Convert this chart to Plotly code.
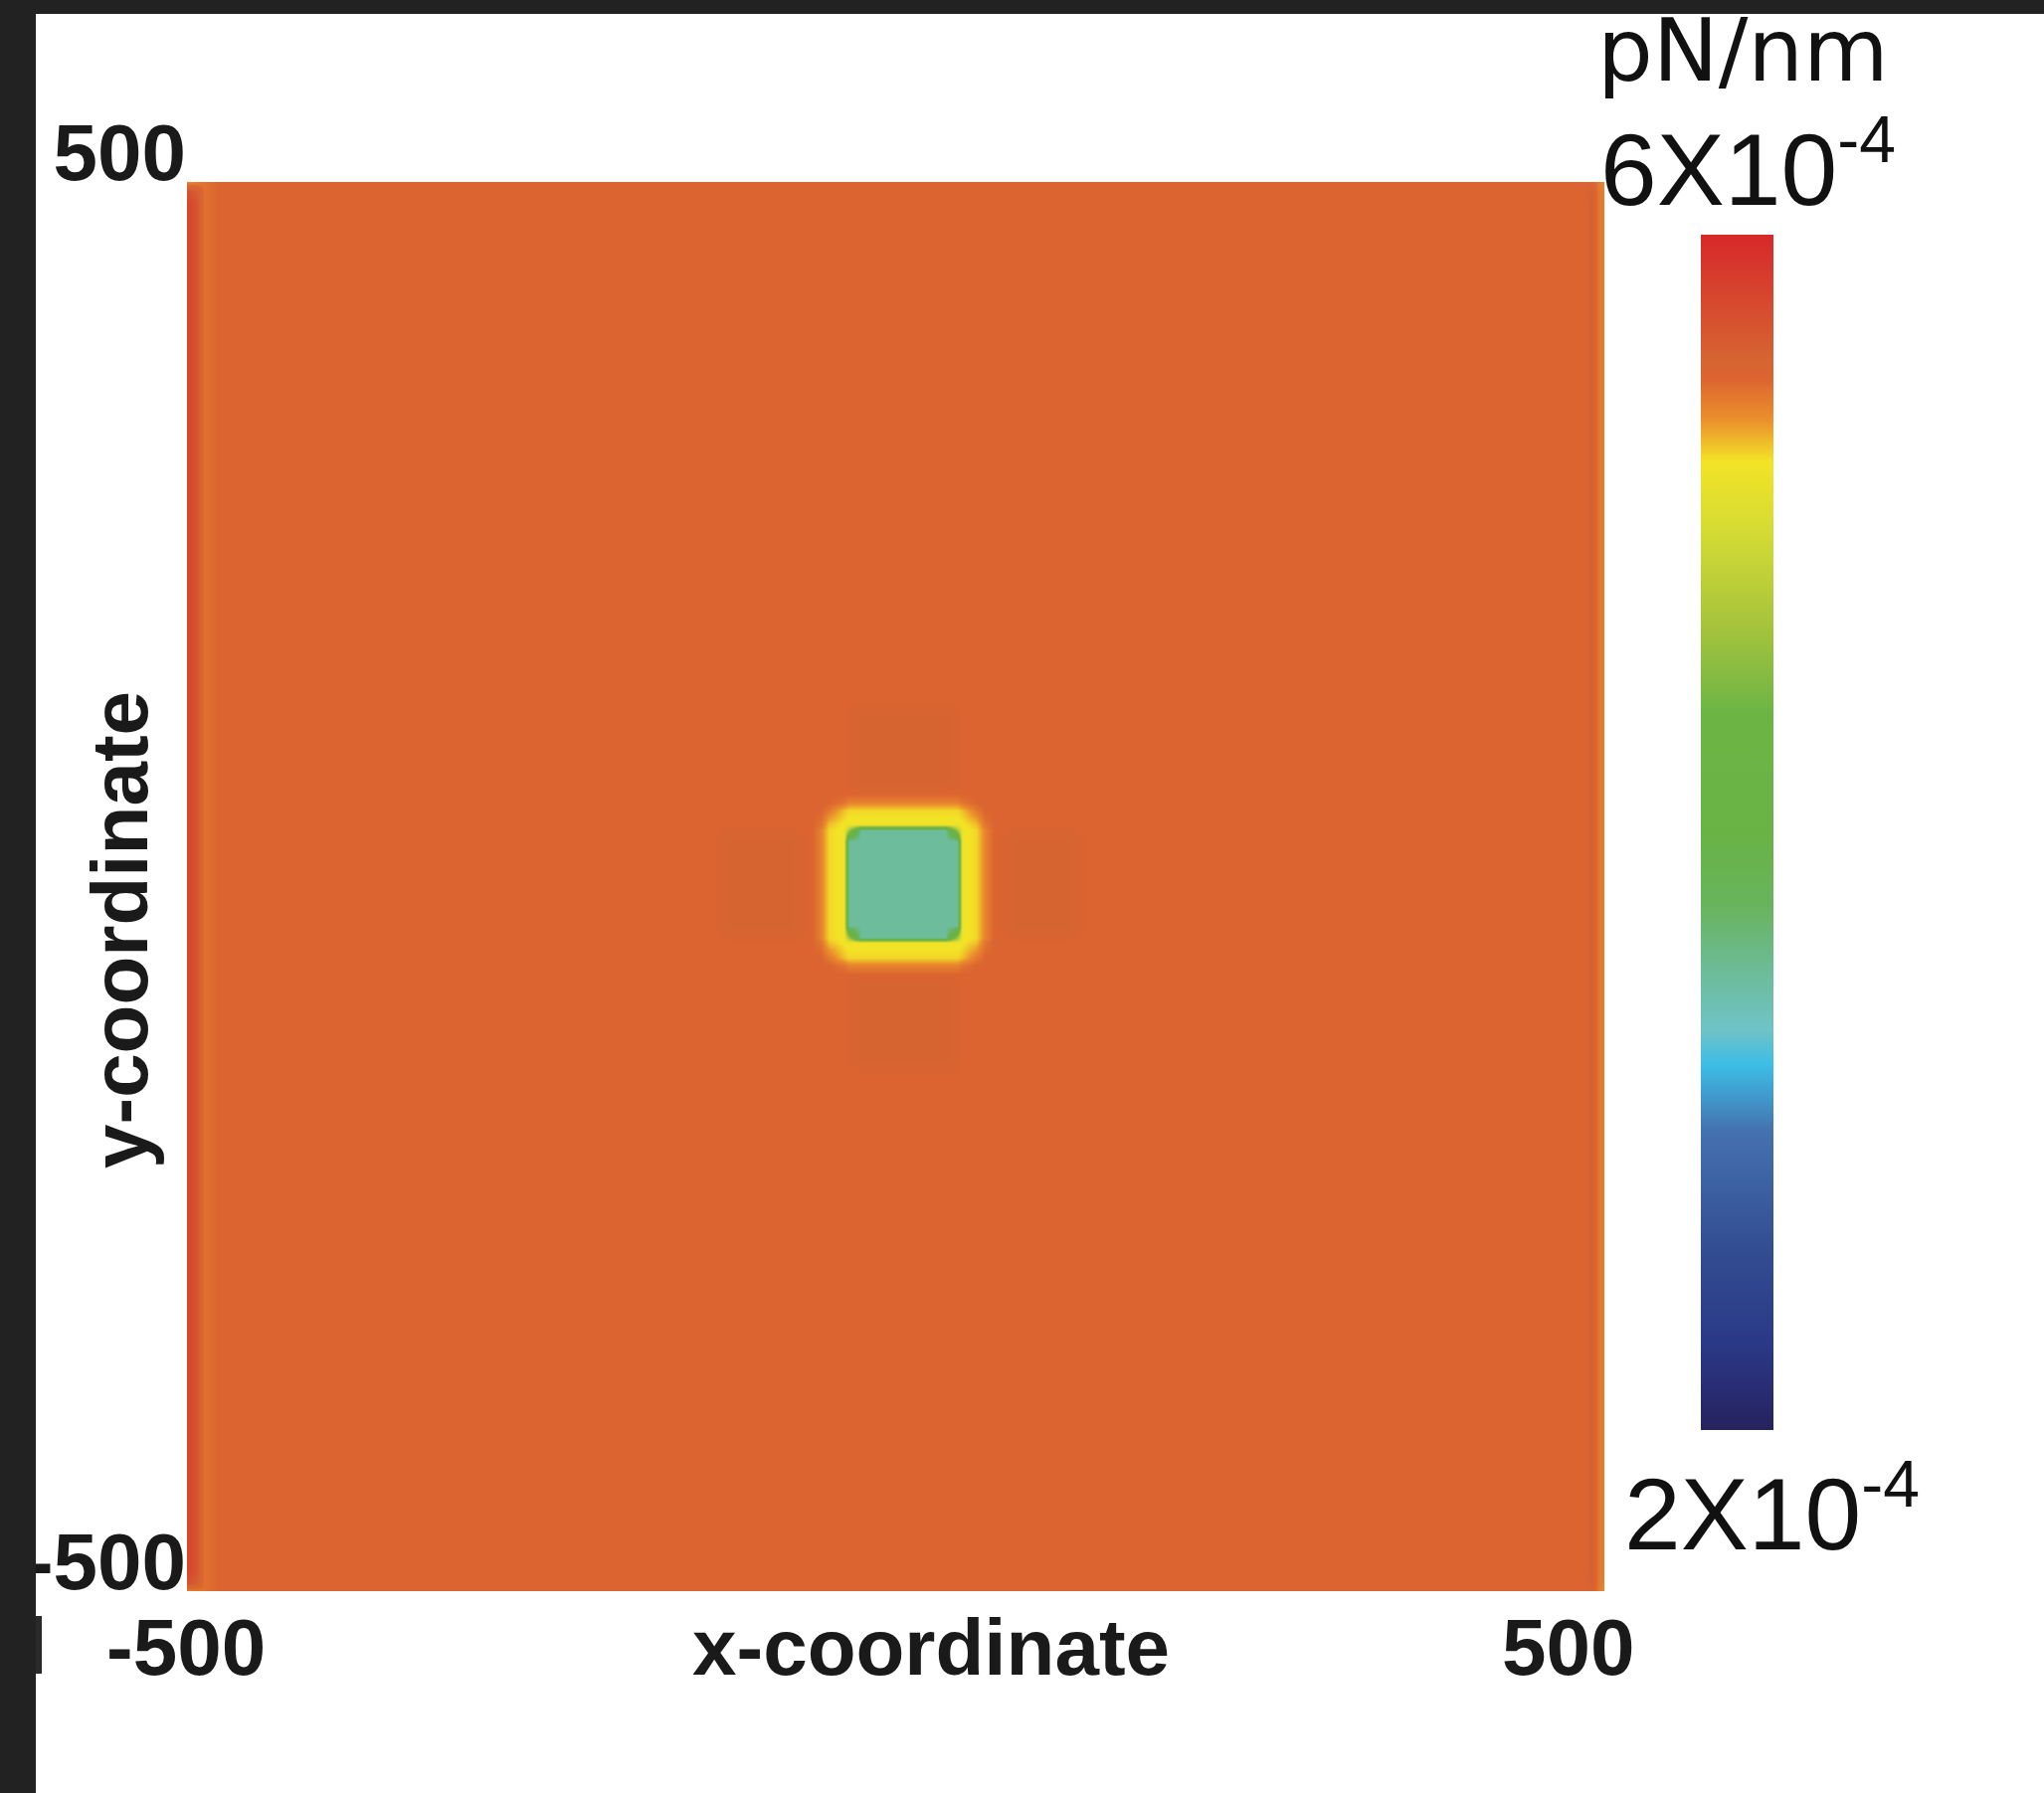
import plotly.graph_objects as go

# ---------------- data (field values in units of 1e-4 pN/nm) ----------------
# outer field: border stripes of the domain
edge_x = [-500, -494, -488, -478, 486, 491, 496, 500]
edge_y = [-500, -494, -486, 486, 494, 500]
edge_z = [
    [5.40, 5.44, 5.47, 5.52, 5.52, 5.56, 5.45, 5.40],   # y = -500
    [5.70, 5.62, 5.48, 5.52, 5.52, 5.60, 5.46, 5.42],   # y = -494
    [5.80, 5.70, 5.48, 5.52, 5.52, 5.62, 5.46, 5.44],   # y = -486
    [5.80, 5.70, 5.48, 5.52, 5.52, 5.62, 5.46, 5.44],   # y = 486
    [5.70, 5.62, 5.48, 5.52, 5.52, 5.60, 5.46, 5.42],   # y = 494
    [5.40, 5.44, 5.47, 5.52, 5.52, 5.56, 5.45, 5.40],   # y = 500
]

# central region: soft square inclusion with yellow rim and faint cross
core_x = [-130, -116, -74, -59, -53, -47, -37, -33, -25, 35, 43, 47, 57, 63, 69, 84, 122, 136]
core_y = [-136, -122, -72, -62, -56, -50, -40, -36, -28, 32, 40, 44, 54, 60, 66, 74, 120, 134]
core_z = [
    [5.52, 5.52, 5.52, 5.52, 5.52, 5.52, 5.52, 5.52, 5.52, 5.52, 5.52, 5.52, 5.52, 5.52, 5.52, 5.52, 5.52, 5.52],  # -136
    [5.52, 5.52, 5.52, 5.52, 5.52, 5.52, 5.52, 5.55, 5.58, 5.58, 5.55, 5.52, 5.52, 5.52, 5.52, 5.52, 5.52, 5.52],  # -122
    [5.52, 5.52, 5.52, 5.52, 5.52, 5.52, 5.52, 5.55, 5.58, 5.58, 5.55, 5.52, 5.52, 5.52, 5.52, 5.52, 5.52, 5.52],  # -72
    [5.52, 5.52, 5.52, 5.52, 5.52, 5.52, 5.52, 5.52, 5.52, 5.52, 5.52, 5.52, 5.52, 5.52, 5.52, 5.52, 5.52, 5.52],  # -62
    [5.52, 5.52, 5.52, 5.52, 5.52, 5.52, 5.47, 5.42, 5.42, 5.42, 5.42, 5.47, 5.52, 5.52, 5.52, 5.52, 5.52, 5.52],  # -56
    [5.52, 5.52, 5.52, 5.52, 5.52, 5.45, 5.30, 5.26, 5.26, 5.26, 5.26, 5.30, 5.45, 5.52, 5.52, 5.52, 5.52, 5.52],  # -50
    [5.52, 5.52, 5.52, 5.52, 5.47, 5.30, 5.23, 5.22, 5.22, 5.22, 5.22, 5.23, 5.30, 5.47, 5.52, 5.52, 5.52, 5.52],  # -40
    [5.52, 5.55, 5.55, 5.52, 5.42, 5.26, 5.22, 4.70, 3.52, 3.52, 4.70, 5.22, 5.26, 5.42, 5.52, 5.55, 5.55, 5.52],  # -36
    [5.52, 5.58, 5.58, 5.52, 5.42, 5.26, 5.22, 3.52, 3.52, 3.52, 3.52, 5.22, 5.26, 5.42, 5.52, 5.58, 5.58, 5.52],  # -28
    [5.52, 5.58, 5.58, 5.52, 5.42, 5.26, 5.22, 3.52, 3.52, 3.52, 3.52, 5.22, 5.26, 5.42, 5.52, 5.58, 5.58, 5.52],  # 32
    [5.52, 5.55, 5.55, 5.52, 5.42, 5.26, 5.22, 4.70, 3.52, 3.52, 4.70, 5.22, 5.26, 5.42, 5.52, 5.55, 5.55, 5.52],  # 40
    [5.52, 5.52, 5.52, 5.52, 5.47, 5.30, 5.23, 5.22, 5.22, 5.22, 5.22, 5.23, 5.30, 5.47, 5.52, 5.52, 5.52, 5.52],  # 44
    [5.52, 5.52, 5.52, 5.52, 5.52, 5.45, 5.30, 5.26, 5.26, 5.26, 5.26, 5.30, 5.45, 5.52, 5.52, 5.52, 5.52, 5.52],  # 54
    [5.52, 5.52, 5.52, 5.52, 5.52, 5.52, 5.47, 5.42, 5.42, 5.42, 5.42, 5.47, 5.52, 5.52, 5.52, 5.52, 5.52, 5.52],  # 60
    [5.52, 5.52, 5.52, 5.52, 5.52, 5.52, 5.52, 5.52, 5.52, 5.52, 5.52, 5.52, 5.52, 5.52, 5.52, 5.52, 5.52, 5.52],  # 66
    [5.52, 5.52, 5.52, 5.52, 5.52, 5.52, 5.52, 5.55, 5.58, 5.58, 5.55, 5.52, 5.52, 5.52, 5.52, 5.52, 5.52, 5.52],  # 74
    [5.52, 5.52, 5.52, 5.52, 5.52, 5.52, 5.52, 5.55, 5.58, 5.58, 5.55, 5.52, 5.52, 5.52, 5.52, 5.52, 5.52, 5.52],  # 120
    [5.52, 5.52, 5.52, 5.52, 5.52, 5.52, 5.52, 5.52, 5.52, 5.52, 5.52, 5.52, 5.52, 5.52, 5.52, 5.52, 5.52, 5.52],  # 134
]

z_min, z_max = 2.0, 6.0
axis_range = [-500, 500]
tick_vals = [-500, 500]
tick_text = ["-500", "500"]

colorscale = [
    [0.000, "#26225E"],
    [0.070, "#2A3887"],
    [0.150, "#324D91"],
    [0.250, "#4571AF"],
    [0.305, "#3CBDE6"],
    [0.335, "#6FC3C7"],
    [0.380, "#6DBC9C"],
    [0.440, "#68B45C"],
    [0.500, "#69B345"],
    [0.600, "#6CB545"],
    [0.670, "#A4C33C"],
    [0.750, "#D3DB34"],
    [0.810, "#F3E326"],
    [0.845, "#EB902D"],
    [0.880, "#DC6430"],
    [0.895, "#D66431"],
    [1.000, "#D7282A"],
]

# ---------------- layout geometry (pixels) ----------------
W, H = 2055, 1803
L, R, T, B = 188, 442, 183, 203
PW, PH = W - L - R, H - T - B


def px(xp):
    return (xp - L) / PW


def py(yp):
    return (H - B - yp) / PH


fig = go.Figure()
fig.add_trace(go.Heatmap(
    x=edge_x, y=edge_y, z=edge_z,
    zmin=z_min, zmax=z_max, zsmooth="best",
    colorscale=colorscale, hoverinfo="skip",
    colorbar=dict(
        thickness=73, thicknessmode="pixels",
        len=1202, lenmode="pixels",
        x=px(1710), xanchor="left", xref="paper",
        y=py(837), yanchor="middle", yref="paper",
        xpad=0, ypad=0, outlinewidth=0, borderwidth=0,
        showticklabels=False, ticks="",
    ),
))
fig.add_trace(go.Heatmap(
    x=core_x, y=core_y, z=core_z,
    zmin=z_min, zmax=z_max, zsmooth="best",
    colorscale=colorscale, hoverinfo="skip", showscale=False,
))

bold = dict(family="Liberation Sans, Arial, sans-serif", size=80, color="#1a1a1a", weight="bold")
regular_big = dict(family="Liberation Sans, Arial, sans-serif", size=102, color="#111111")

fig.update_layout(
    width=W, height=H,
    margin=dict(l=L, r=R, t=T, b=B, pad=0),
    paper_bgcolor="white", plot_bgcolor="white",
    xaxis=dict(range=axis_range, showgrid=False, zeroline=False, showline=False,
               showticklabels=False, ticks=""),
    yaxis=dict(range=axis_range, showgrid=False, zeroline=False, showline=False,
               tickmode="array", tickvals=tick_vals, ticktext=tick_text,
               ticks="", tickfont=bold, ticklabelshift=-30, ticklabelstandoff=0),
    showlegend=False,
)

annotations = [
    dict(text=tick_text[0], x=tick_vals[0], xref="x", y=py(1656), yref="paper",
         xanchor="center", yanchor="middle", xshift=-1.5, showarrow=False, font=bold),
    dict(text=tick_text[1], x=tick_vals[1], xref="x", y=py(1656), yref="paper",
         xanchor="center", yanchor="middle", xshift=-37, showarrow=False, font=bold),
    dict(text="x-coordinate", x=px(936), xref="paper", y=py(1656), yref="paper",
         xanchor="center", yanchor="middle", showarrow=False, font=bold),
    dict(text="y-coordinate", x=px(120), xref="paper", y=py(935), yref="paper",
         xanchor="center", yanchor="middle", textangle=-90, showarrow=False, font=bold),
    dict(text="pN/nm", x=px(1604), xref="paper", y=py(50), yref="paper",
         xanchor="left", yanchor="middle", showarrow=False,
         font=dict(family="DejaVu Sans, sans-serif", size=88, color="#111111")),
    dict(text='6X10<sup><span style="font-size:66px">-4</span></sup>', x=px(1607), xref="paper",
         y=py(230), yref="paper", xanchor="left", yanchor="bottom", showarrow=False,
         font=regular_big),
    dict(text='2X10<sup><span style="font-size:66px">-4</span></sup>', x=px(1631), xref="paper",
         y=py(1582), yref="paper", xanchor="left", yanchor="bottom", showarrow=False,
         font=regular_big),
]
fig.update_layout(annotations=annotations)

dark = "#222222"
fig.update_layout(shapes=[
    dict(type="rect", xref="paper", yref="paper", layer="above",
         x0=px(-5), x1=px(36), y0=py(H + 5), y1=py(-5), fillcolor=dark, line=dict(width=0)),
    dict(type="rect", xref="paper", yref="paper", layer="above",
         x0=px(-5), x1=px(W + 5), y0=py(14), y1=py(-5), fillcolor=dark, line=dict(width=0)),
    dict(type="rect", xref="paper", yref="paper", layer="above",
         x0=px(36), x1=px(42), y0=py(1683), y1=py(1625), fillcolor="#2a2a2a", line=dict(width=0)),
])

fig.write_html("out.html",
               config={"displayModeBar": False},
               post_script="document.body.style.margin='0';document.body.style.overflow='hidden';")
